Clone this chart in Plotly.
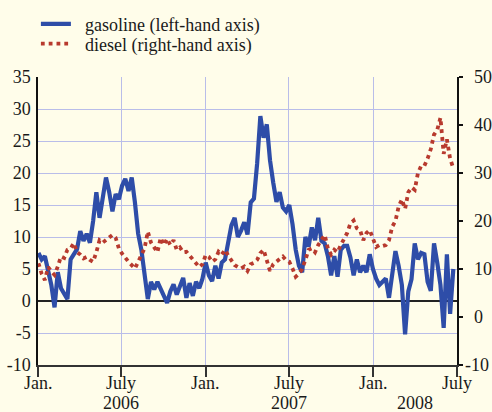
import pandas as pd
import plotly.graph_objects as go

# Weekly observations, first week of Jan 2006 onward
week_start = "2006-01-02"
n_weeks = 130

gasoline = [
    7.5, 6.5, 7.0, 4.5, 2.5, -1.0, 4.5, 2.0, 1.0, 0.3,
    6.5, 7.3, 8.1, 10.9, 9.4, 10.5, 9.1, 12.5, 17.0, 13.0,
    16.1, 19.3, 17.0, 14.0, 16.7, 15.9, 18.0, 19.1, 17.2, 19.3,
    15.4, 10.5, 8.0, 4.5, 0.3, 3.0, 1.8, 3.0, 2.0, 1.0,
    -0.3, 1.5, 2.6, 1.0, 2.5, 3.6, 0.5, 2.8, 0.8, 3.0,
    2.0, 3.5, 6.0, 4.0, 3.1, 5.5, 3.5, 6.0, 6.5, 9.0,
    11.8, 13.0, 10.0, 11.0, 12.3, 10.4, 15.4, 16.0, 21.5, 28.9,
    25.5, 27.6, 22.0, 18.5, 15.5, 17.0, 14.6, 14.0, 15.0, 12.0,
    8.0, 5.5, 4.5, 10.0, 8.5, 11.5, 9.5, 13.0, 9.4, 9.0,
    7.0, 4.0, 7.0, 3.8, 8.0, 8.6, 8.6, 6.8, 4.0, 6.5,
    4.5, 5.5, 4.5, 7.3, 5.0, 3.5, 2.5, 3.0, 3.5, 0.5,
    4.5, 7.8, 5.5, 2.5, -5.2, 1.5, 3.4, 9.0, 6.5, 7.5,
    7.3, 3.0, 1.6, 9.0, 6.0, 2.5, -4.2, 7.3, -2.0, 5.0,
]

diesel = [
    11.2, 9.0, 7.7, 10.4, 9.5, 8.75, 10.5, 12.6, 12.3, 14.0,
    14.3, 15.4, 13.5, 13.0, 12.2, 12.5, 11.9, 11.5, 13.5, 16.0,
    15.5, 16.0, 16.7, 17.1, 16.5, 14.3, 13.2, 12.2, 11.5, 10.8,
    10.1, 11.5, 13.0, 14.3, 17.8, 15.5, 14.5, 13.5, 16.5, 15.0,
    16.3, 15.0, 16.0, 14.0, 14.5, 13.5, 13.6, 12.8, 12.0, 11.0,
    10.4, 11.0, 12.9, 12.5, 11.5, 12.0, 13.6, 13.0, 14.0, 12.8,
    11.7, 10.8, 10.4, 10.1, 10.5, 9.6, 11.0, 11.3, 11.9, 13.3,
    14.0, 12.0, 9.6, 11.0, 11.5, 12.0, 12.6, 11.8, 11.5, 10.1,
    8.4, 9.0, 10.0, 11.9, 14.0, 14.3, 13.5, 15.0, 16.0, 17.1,
    14.3, 13.0, 14.0, 13.5, 15.0, 16.4, 17.5, 19.5, 20.1, 18.5,
    18.1, 16.0, 17.5, 18.1, 16.5, 14.6, 15.0, 14.8, 15.0, 16.0,
    18.8, 20.0, 23.0, 24.5, 22.5, 26.0, 27.0, 26.5, 30.0, 31.5,
    31.5, 33.0, 35.0, 38.0, 39.0, 41.5, 34.0, 37.0, 33.0, 31.0,
]

tick_dates = ["2006-01-01", "2006-07-01", "2007-01-01", "2007-07-01", "2008-01-01", "2008-07-01"]
tick_text = ["Jan.", "July", "Jan.", "July", "Jan.", "July"]
year_dates = ["2006-07-01", "2007-07-01", "2008-04-01"]
year_text = ["2006", "2007", "2008"]

left_ticks = [-10, -5, 0, 5, 10, 15, 20, 25, 30, 35]
left_labels = ["-10", "-5", "0", "5", "10", "15", "20", "25", "30", "35"]
right_ticks = [-10, 0, 10, 20, 30, 40, 50]
right_labels = ["-10", "0", "10", "20", "30", "40", "50"]

dates = pd.date_range(week_start, periods=n_weeks, freq="7D")

BG = "#fffdea"
GRID = "#b9bde9"
TXT = "#1a1a1a"
FONT = "'Liberation Serif', 'Times New Roman', Times, serif"
NB = "\u00a0"
tfont = dict(family=FONT, size=18, color=TXT)

fig = go.Figure()
fig.add_trace(go.Scatter(
    x=dates, y=gasoline, mode="lines", name=NB * 2 + "gasoline (left-hand axis)",
    line=dict(color="#2e4da8", width=4.2), yaxis="y", legend="legend2",
))
fig.add_trace(go.Scatter(
    x=dates, y=diesel, mode="lines", name=NB * 2 + "diesel (right-hand axis)",
    line=dict(color="#b83a2e", width=3.8, dash="3.8px,4px"), yaxis="y2", legend="legend3",
))

# x tick labels (month) and year labels
for d, t in zip(tick_dates, tick_text):
    fig.add_annotation(x=d, xref="x", y=-0.0635, yref="paper", yanchor="middle",
                       text=t, showarrow=False, font=tfont)
for d, t in zip(year_dates, year_text):
    fig.add_annotation(x=d, xref="x", y=-0.131, yref="paper", yanchor="middle",
                       text=t, showarrow=False, font=tfont)

# right-hand axis labels
for v, t in zip(right_ticks, right_labels):
    if t.startswith("-"):
        fig.add_annotation(x=1.081, xref="paper", y=v, yref="y2", xanchor="right",
                           yanchor="middle", text=t, showarrow=False, font=tfont)
    else:
        fig.add_annotation(x=1.036, xref="paper", y=v, yref="y2", xanchor="left",
                           yanchor="middle", text=t, showarrow=False, font=tfont)

leg_common = dict(xanchor="left", yanchor="top", bgcolor="rgba(0,0,0,0)", borderwidth=0,
                  font=tfont, itemwidth=30, tracegroupgap=0)

fig.update_layout(
    template="none",
    width=492, height=412,
    margin=dict(l=38, r=35, t=77, b=47, autoexpand=False),
    paper_bgcolor=BG, plot_bgcolor=BG,
    font=tfont,
    showlegend=True,
    legend2=dict(x=-0.005, y=1.248, **leg_common),
    legend3=dict(x=-0.005, y=1.179, **leg_common),
    xaxis=dict(
        type="date", range=["2006-01-01", "2008-07-01"],
        tickmode="array", tickvals=tick_dates, showticklabels=False,
        ticks="outside", ticklen=10, tickcolor="#333", tickwidth=1.5,
        showline=True, linecolor="#333", linewidth=1.5,
        showgrid=True, gridcolor=GRID, gridwidth=1.2,
        zeroline=False, automargin=False,
    ),
    yaxis=dict(
        range=[-10, 35], tickmode="array", tickvals=left_ticks, ticktext=left_labels,
        showline=True, linecolor="#111", linewidth=1.5,
        showgrid=True, gridcolor=GRID, gridwidth=1.2,
        zeroline=True, zerolinecolor="#222", zerolinewidth=1.5,
        ticks="", ticklabelstandoff=2, automargin=False,
        tickfont=tfont,
    ),
    yaxis2=dict(
        range=[-10, 50], tickmode="array", tickvals=right_ticks, showticklabels=False,
        overlaying="y", side="right",
        showline=True, linecolor="#111", linewidth=1.5,
        showgrid=False, zeroline=False,
        ticks="outside", ticklen=4, tickcolor="#111", tickwidth=1.5,
        automargin=False,
    ),
)

fig.write_html("out.html", config={"displayModeBar": False},
               post_script="document.body.style.margin='0px';")
